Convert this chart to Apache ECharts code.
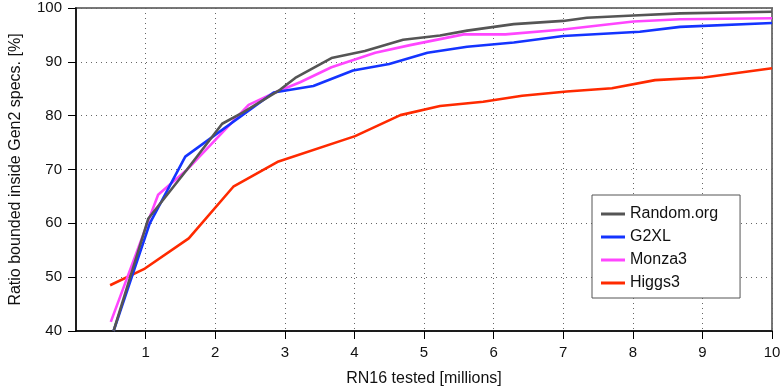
<!DOCTYPE html>
<html>
<head>
<meta charset="utf-8">
<script src="https://cdn.jsdelivr.net/npm/echarts@6/dist/echarts.min.js"></script>
<style>
    html, body { margin: 0; padding: 0; background: #fff; }
    #main { width: 782px; height: 388px; }
</style>
</head>
<body>
<div id="main"></div>
<script>
// [millions tested, ratio %]
var randomOrg = [[0.54, 40], [1.04, 60.9], [1.59, 69.9], [2.1, 78.5], [2.4, 80.6], [2.93, 84.8], [3.15, 87.0],
    [3.67, 90.7], [4.15, 92.0], [4.7, 94.1], [5.23, 94.9], [5.62, 95.8], [6.29, 97.0], [7.0, 97.6],
    [7.34, 98.2], [8.01, 98.6], [8.68, 99.0], [10, 99.3]];
var g2xl = [[0.54, 40], [1.06, 60.0], [1.57, 72.4], [2.84, 84.3], [3.41, 85.5], [3.98, 88.4], [4.5, 89.6],
    [5.05, 91.7], [5.62, 92.8], [6.29, 93.6], [7.0, 94.8], [8.1, 95.6], [8.68, 96.5], [10, 97.2]];
var monza3 = [[0.5, 41.7], [1.06, 61.2], [1.18, 65.3], [1.59, 69.9], [2.48, 82.0], [2.84, 84.2], [3.22, 86.2],
    [3.67, 89.0], [4.3, 91.7], [4.8, 93.1], [5.57, 95.1], [6.17, 95.1], [7.0, 96.0], [8.01, 97.5],
    [8.68, 97.9], [10, 98.1]];
var higgs3 = [[0.49, 48.5], [0.99, 51.6], [1.62, 57.2], [2.26, 66.8], [2.91, 71.5], [4.01, 76.2], [4.66, 80.1],
    [5.23, 81.8], [5.85, 82.6], [6.41, 83.7], [7.05, 84.5], [7.7, 85.1], [8.32, 86.6], [9.02, 87.1], [10, 88.8]];
var xTicks = [1, 2, 3, 4, 5, 6, 7, 8, 9, 10];

var names = ['Random.org', 'G2XL', 'Monza3', 'Higgs3'];
var colors = ['#555555', '#1434ff', '#ff46ff', '#ff2a00'];
var allData = [randomOrg, g2xl, monza3, higgs3];

var myChart = echarts.init(document.getElementById('main'));
var font = '"Liberation Sans", Arial, sans-serif';

var series = [];
for (var i = 0; i < names.length; i++) {
    series.push({
        name: names[i],
        type: 'line',
        data: allData[i],
        symbol: 'none',
        lineStyle: { color: colors[i], width: 2.6 },
        itemStyle: { color: colors[i] },
        z: 10 - i
    });
}

var option = {
    animation: false,
    textStyle: { fontFamily: font },
    grid: {
        left: 76, right: 10, top: 8, bottom: 57,
        outerBoundsMode: 'none',
        containLabel: false,
        show: true, borderColor: '#777', borderWidth: 2
    },
    legend: {
        orient: 'vertical',
        left: 592, top: 195,
        padding: [11, 22, 7, 9],
        backgroundColor: '#fff',
        borderColor: '#555', borderWidth: 1,
        itemWidth: 24, itemHeight: 3, itemGap: 7, itemTextGap: 9,
        icon: 'rect',
        textStyle: { fontFamily: font, fontSize: 16, color: '#111' },
        data: names
    },
    xAxis: {
        type: 'value', min: 0, max: 10, interval: 1,
        name: 'RN16 tested [millions]',
        nameLocation: 'middle', nameGap: 40,
        nameTextStyle: { fontFamily: font, fontSize: 16, color: '#111' },
        axisLine: { lineStyle: { color: '#000', width: 1.5 } },
        axisTick: { show: true, length: 8, customValues: xTicks, lineStyle: { color: '#000' } },
        axisLabel: { customValues: xTicks, fontFamily: font, fontSize: 15, color: '#111', margin: 14 },
        splitLine: { show: true, lineStyle: { type: [1, 4], color: '#666' } }
    },
    yAxis: {
        type: 'value', min: 40, max: 100, interval: 10,
        name: 'Ratio bounded inside Gen2 specs. [%]',
        nameLocation: 'middle', nameGap: 52,
        nameTextStyle: { fontFamily: font, fontSize: 16, color: '#111' },
        axisLine: { show: true, lineStyle: { color: '#000', width: 1.5 } },
        axisTick: { show: true, length: 8, lineStyle: { color: '#000' } },
        axisLabel: { fontFamily: font, fontSize: 15, color: '#111', margin: 14 },
        splitLine: { show: true, lineStyle: { type: [1, 4], color: '#666' } }
    },
    series: series
};

myChart.setOption(option);
</script>
</body>
</html>
